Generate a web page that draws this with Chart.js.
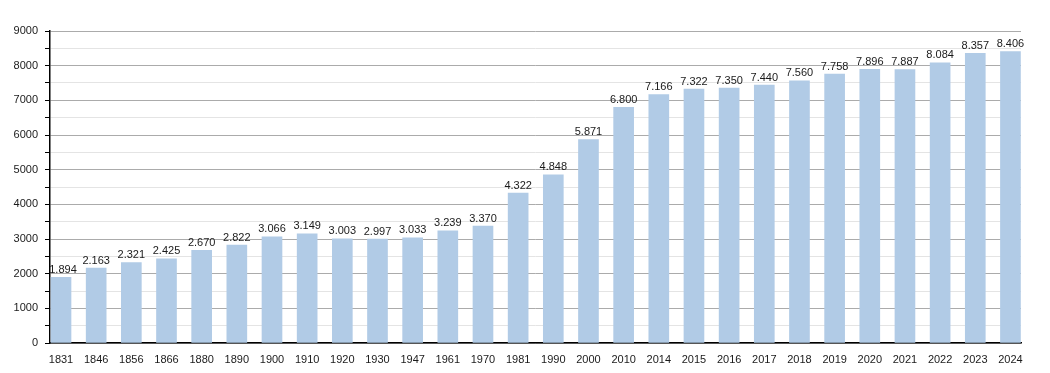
<!DOCTYPE html>
<html>
<head>
<meta charset="utf-8">
<script src="https://cdn.jsdelivr.net/npm/chart.js@4/dist/chart.umd.min.js"></script>
<style>
  body { margin: 0; background: #fff; }
  #wrap { width: 1050px; height: 373px; }
</style>
</head>
<body>
<div id="wrap"><canvas id="chart" width="1050" height="373"></canvas></div>
<script>
let years = ["1831", "1846", "1856", "1866", "1880", "1890", "1900", "1910", "1920", "1930",
    "1947", "1961", "1970", "1981", "1990", "2000", "2010", "2014", "2015", "2016",
    "2017", "2018", "2019", "2020", "2021", "2022", "2023", "2024"];
let population = [1894, 2163, 2321, 2425, 2670, 2822, 3066, 3149, 3003, 2997,
    3033, 3239, 3370, 4322, 4848, 5871, 6800, 7166, 7322, 7350,
    7440, 7560, 7758, 7896, 7887, 8084, 8357, 8406];
let yTicks = [0, 1000, 2000, 3000, 4000, 5000, 6000, 7000, 8000, 9000];

const FONT = { family: "'Liberation Sans', Arial, sans-serif", size: 11 };

function fmt(v) {
    return String(v).replace(/\B(?=(\d{3})+(?!\d))/g, ".");
}

// value labels over the bars (drawn last so the axis doesn't cover them)
const barLabels = {
    id: "barLabels",
    afterDraw(chart) {
        const ctx = chart.ctx;
        const meta = chart.getDatasetMeta(0);
        ctx.save();
        ctx.font = FONT.size + "px " + FONT.family;
        ctx.fillStyle = "#1a1a1a";
        ctx.textAlign = "center";
        ctx.textBaseline = "bottom";
        meta.data.forEach((bar, i) => {
            ctx.fillText(fmt(population[i]), bar.x + (i === 0 ? 2 : 0), bar.y - 2);
        });
        ctx.restore();
    }
};

new Chart(document.getElementById("chart"), {
    type: "bar",
    data: {
        datasets: [{
            data: population.map((v, i) => ({ x: i, y: v })),
            backgroundColor: "#b1cbe6",
            barThickness: 20
        }]
    },
    options: {
        responsive: false,
        animation: false,
        layout: { padding: { top: 31, right: 29, bottom: 9, left: 0 } },
        plugins: { legend: { display: false }, tooltip: { enabled: false } },
        scales: {
            x: {
                type: "linear",
                offset: false,
                min: -0.313,
                max: 27.3,
                afterFit: s => { s.height = 21; },
                afterBuildTicks: s => { s.ticks = years.map((y, i) => ({ value: i })); },
                grid: { display: false },
                border: { display: true, color: "#000", width: 1.5 },
                ticks: {
                    autoSkip: false,
                    maxRotation: 0,
                    color: "#1a1a1a",
                    font: FONT,
                    padding: 2,
                    callback: v => years[v]
                }
            },
            y: {
                min: 0,
                max: 9000,
                afterFit: s => { s.width = 50; },
                border: { display: true, color: "#000", width: 1.5 },
                grid: {
                    color: c => c.tick && c.tick.value % 1000 === 0 ? "#ababab" : "#e4e4e4",
                    tickColor: "#000",
                    tickLength: 5
                },
                ticks: {
                    stepSize: 500,
                    color: "#1a1a1a",
                    font: FONT,
                    padding: 7,
                    callback: v => yTicks.includes(v) ? String(v) : ""
                }
            }
        }
    },
    plugins: [barLabels]
});
</script>
</body>
</html>
